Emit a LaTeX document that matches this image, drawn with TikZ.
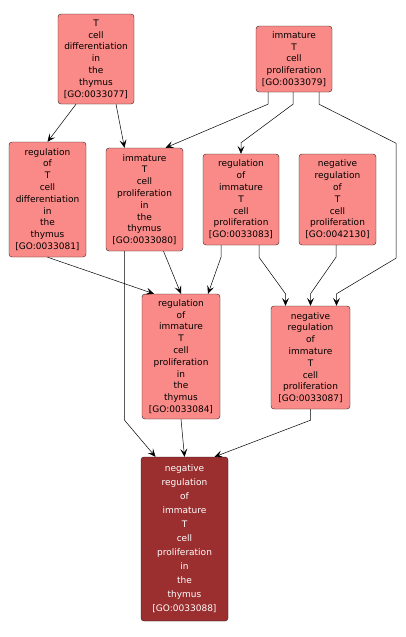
\documentclass[tikz,border=0pt]{standalone}
\usepackage{fontspec}
\usepackage{tikz}
\usetikzlibrary{arrows.meta}
\newfontfamily\gofont{DejaVu Sans}
\definecolor{termfill}{RGB}{250,138,135}
\definecolor{queryfill}{RGB}{155,46,46}
\definecolor{termline}{RGB}{40,30,30}
\tikzset{
  term/.style ={draw=termline, rounded corners=3pt, fill=termfill, align=center, inner sep=0pt,
                font=\gofont\fontsize{9}{11.8}\selectfont},
  query/.style={term, fill=queryfill, text=white, font=\gofont\fontsize{9}{14}\selectfont},
  isa/.style  ={-{Stealth[length=8pt,width=7pt,inset=3.5pt]}, line width=0.5pt}
}
\begin{document}
\begin{tikzpicture}[x=1pt, y=-1pt]
  \useasboundingbox[fill=white] (0,0) rectangle (405,637);
  \node[term, minimum width=76pt, minimum height=90pt] (t77) at (96,59) {T\\cell\\differentiation\\in\\the\\thymus\\{[GO:0033077]}};
  \node[term, minimum width=76pt, minimum height=66pt] (t79) at (294,59) {immature\\T\\cell\\proliferation\\{[GO:0033079]}};
  \node[term, minimum width=77pt, minimum height=115pt] (t81) at (47.5,199.5) {regulation\\of\\T\\cell\\differentiation\\in\\the\\thymus\\{[GO:0033081]}};
  \node[term, minimum width=77pt, minimum height=103pt] (t80) at (144.5,199.5) {immature\\T\\cell\\proliferation\\in\\the\\thymus\\{[GO:0033080]}};
  \node[term, minimum width=76pt, minimum height=91pt] (t83) at (241,199.5) {regulation\\of\\immature\\T\\cell\\proliferation\\{[GO:0033083]}};
  \node[term, minimum width=77pt, minimum height=91pt] (t42130) at (337.5,199.5) {negative\\regulation\\of\\T\\cell\\proliferation\\{[GO:0042130]}};
  \node[term, minimum width=78pt, minimum height=125pt] (t84) at (181,356.5) {regulation\\of\\immature\\T\\cell\\proliferation\\in\\the\\thymus\\{[GO:0033084]}};
  \node[term, minimum width=79pt, minimum height=103pt] (t87) at (310.5,357.5) {negative\\regulation\\of\\immature\\T\\cell\\proliferation\\{[GO:0033087]}};
  \node[query, minimum width=87pt, minimum height=164pt] (t88) at (184.5,539) {negative\\regulation\\of\\immature\\T\\cell\\proliferation\\in\\the\\thymus\\{[GO:0033088]}};
  % is_a / regulates links
  \draw[isa] ([xshift=-20pt]t77.south) -- (t81.north);
  \draw[isa] ([xshift=20pt]t77.south) -- ([xshift=-20pt]t80.north);
  \draw[isa] ([xshift=-26pt]t79.south) -- ++(0,12) -- ([xshift=21pt]t80.north);
  \draw[isa] ([xshift=-1pt]t79.south) -- ++(0,12) -- ([yshift=11pt]t83.north) -- (t83.north);
  \draw[isa] ([xshift=25pt]t79.south) -- ++(0,12) -- ++(77,39) -- ++(0,115) -- ([xshift=26pt,yshift=12pt]t87.north) -- ([xshift=26pt]t87.north);
  \draw[isa] ([xshift=-20pt]t83.south) -- ++(0,12) -- ([xshift=27pt]t84.north);
  \draw[isa] ([xshift=18pt]t83.south) -- ++(0,12) -- ([xshift=-25pt,yshift=12pt]t87.north) -- ([xshift=-25pt]t87.north);
  \draw[isa] ([xshift=-1.5pt]t42130.south) -- ++(0,12) -- ([yshift=12pt]t87.north) -- (t87.north);
  \draw[isa] (t81.south) -- ([xshift=-27pt]t84.north);
  \draw[isa] ([xshift=19pt]t80.south) -- (t84.north);
  \draw[isa] ([xshift=-20pt]t80.south) -- ++(0,169) -- ([xshift=-29pt]t88.north);
  \draw[isa] (t84.south) -- (t88.north);
  \draw[isa] (t87.south) -- ++(0,11) -- ([xshift=30pt]t88.north);
\end{tikzpicture}
\end{document}
